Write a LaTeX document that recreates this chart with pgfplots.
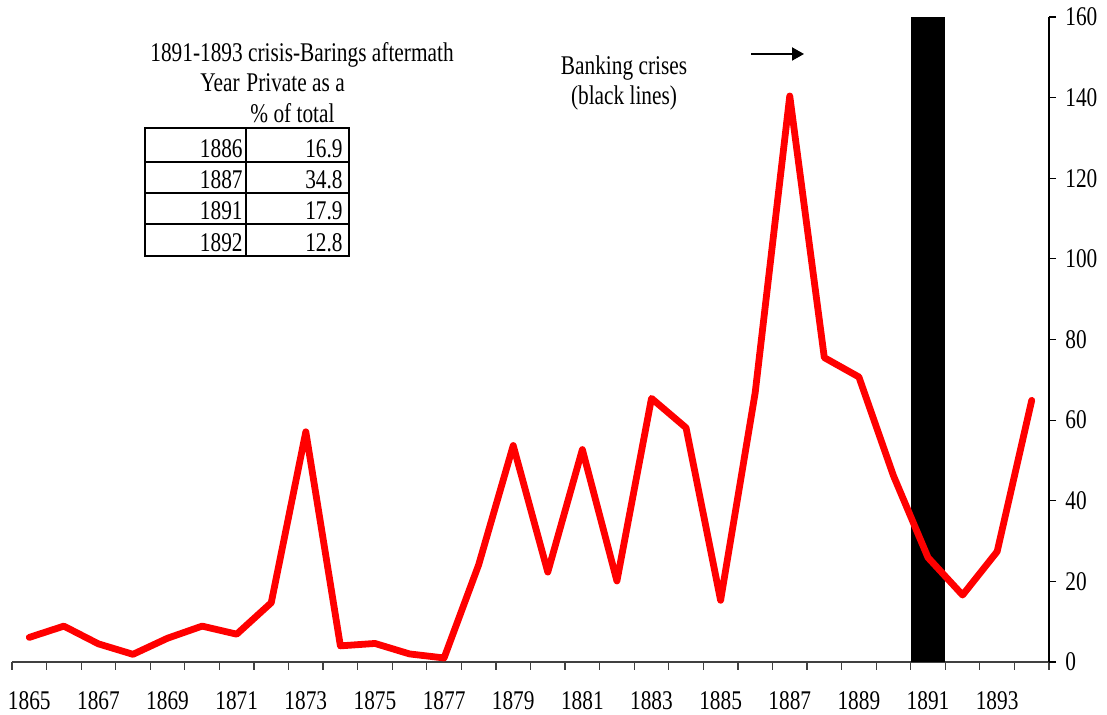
\documentclass[border=0pt]{standalone}
\usepackage{fontspec}
\setmainfont{Liberation Serif}[FakeStretch=0.79]
\usepackage{pgfplots}
\pgfplotsset{compat=1.18}
\usetikzlibrary{calc,arrows.meta}
\begin{document}
\fontsize{13.5pt}{16pt}\selectfont
\begin{tikzpicture}
\begin{axis}[
  scale only axis, width=518.5pt, height=322.5pt,
  xmin=1864.5, xmax=1894.5, ymin=0, ymax=160,
  axis x line=bottom, axis y line=right,
  axis line style={-, black, line width=0.6pt},
  x axis line style={black!75},
  xtick={1865,1867,...,1893},
  minor xtick={1864.5,1865.5,...,1894.5},
  major x tick style={draw=none},
  minor x tick style={black!75, line width=0.6pt},
  minor tick length=4pt,
  ytick={0,20,...,160},
  major tick length=3.5pt,
  y tick style={black, line width=0.6pt},
  tick align=outside,
  /pgf/number format/1000 sep={},
  /pgf/number format/assume math mode=true,
  x tick label style={yshift=-6.5pt},
  tick label style={font=\fontsize{13.5pt}{16pt}\selectfont},
  clip=false,
]
\addplot[ybar, bar width=1, bar shift=0pt, fill=black, draw=none] coordinates {(1891,160)};
\addplot[red, line width=3.4pt, line join=round, line cap=round] coordinates {
(1865,6.1)(1866,8.9)(1867,4.5)(1868,1.9)(1869,5.9)(1870,8.9)(1871,6.9)(1872,14.7)
(1873,57.1)(1874,4.0)(1875,4.6)(1876,2.0)(1877,1.0)(1878,24.1)(1879,53.7)(1880,22.3)
(1881,52.7)(1882,20.1)(1883,65.4)(1884,58.1)(1885,15.3)(1886,66.8)(1887,140.4)(1888,75.5)
(1889,70.7)(1890,46.2)(1891,25.9)(1892,16.6)(1893,27.4)(1894,64.9)};
\coordinate (TL) at (rel axis cs:0,1);
\end{axis}
\pgfresetboundingbox
\begin{scope}[shift={($(TL)+(-6pt,8.5pt)$)}, x=0.5pt, y=-0.5pt]
\path[use as bounding box] (0,0) rectangle (1107,715);
% table header
\node[anchor=base, inner sep=0pt] at (302,62) {1891-1893 crisis-Barings aftermath};
\node[anchor=base east, inner sep=0pt] at (240,92) {Year};
\node[anchor=base west, inner sep=0pt] at (246,92) {Private as a};
\node[anchor=base west, inner sep=0pt] at (250,123) {\% of total};
% table grid
\draw[line width=1.3pt] (145,128) rectangle (349,256);
\draw[line width=1.3pt] (145,162) -- (349,162) (145,193) -- (349,193) (145,224) -- (349,224) (246,128) -- (246,256);
\node[anchor=base east, inner sep=0pt] at (243,158) {1886};
\node[anchor=base east, inner sep=0pt] at (343,158) {16.9};
\node[anchor=base east, inner sep=0pt] at (243,189) {1887};
\node[anchor=base east, inner sep=0pt] at (343,189) {34.8};
\node[anchor=base east, inner sep=0pt] at (243,220) {1891};
\node[anchor=base east, inner sep=0pt] at (343,220) {17.9};
\node[anchor=base east, inner sep=0pt] at (243,252) {1892};
\node[anchor=base east, inner sep=0pt] at (343,252) {12.8};
% banking crises note
\node[anchor=base, inner sep=0pt] at (624,75) {Banking crises};
\node[anchor=base, inner sep=0pt] at (624,105) {(black lines)};
\draw[line width=1pt, -{Triangle[length=6pt,width=6.5pt]}] (751,54) -- (804,54);
\end{scope}
\end{tikzpicture}
\end{document}
